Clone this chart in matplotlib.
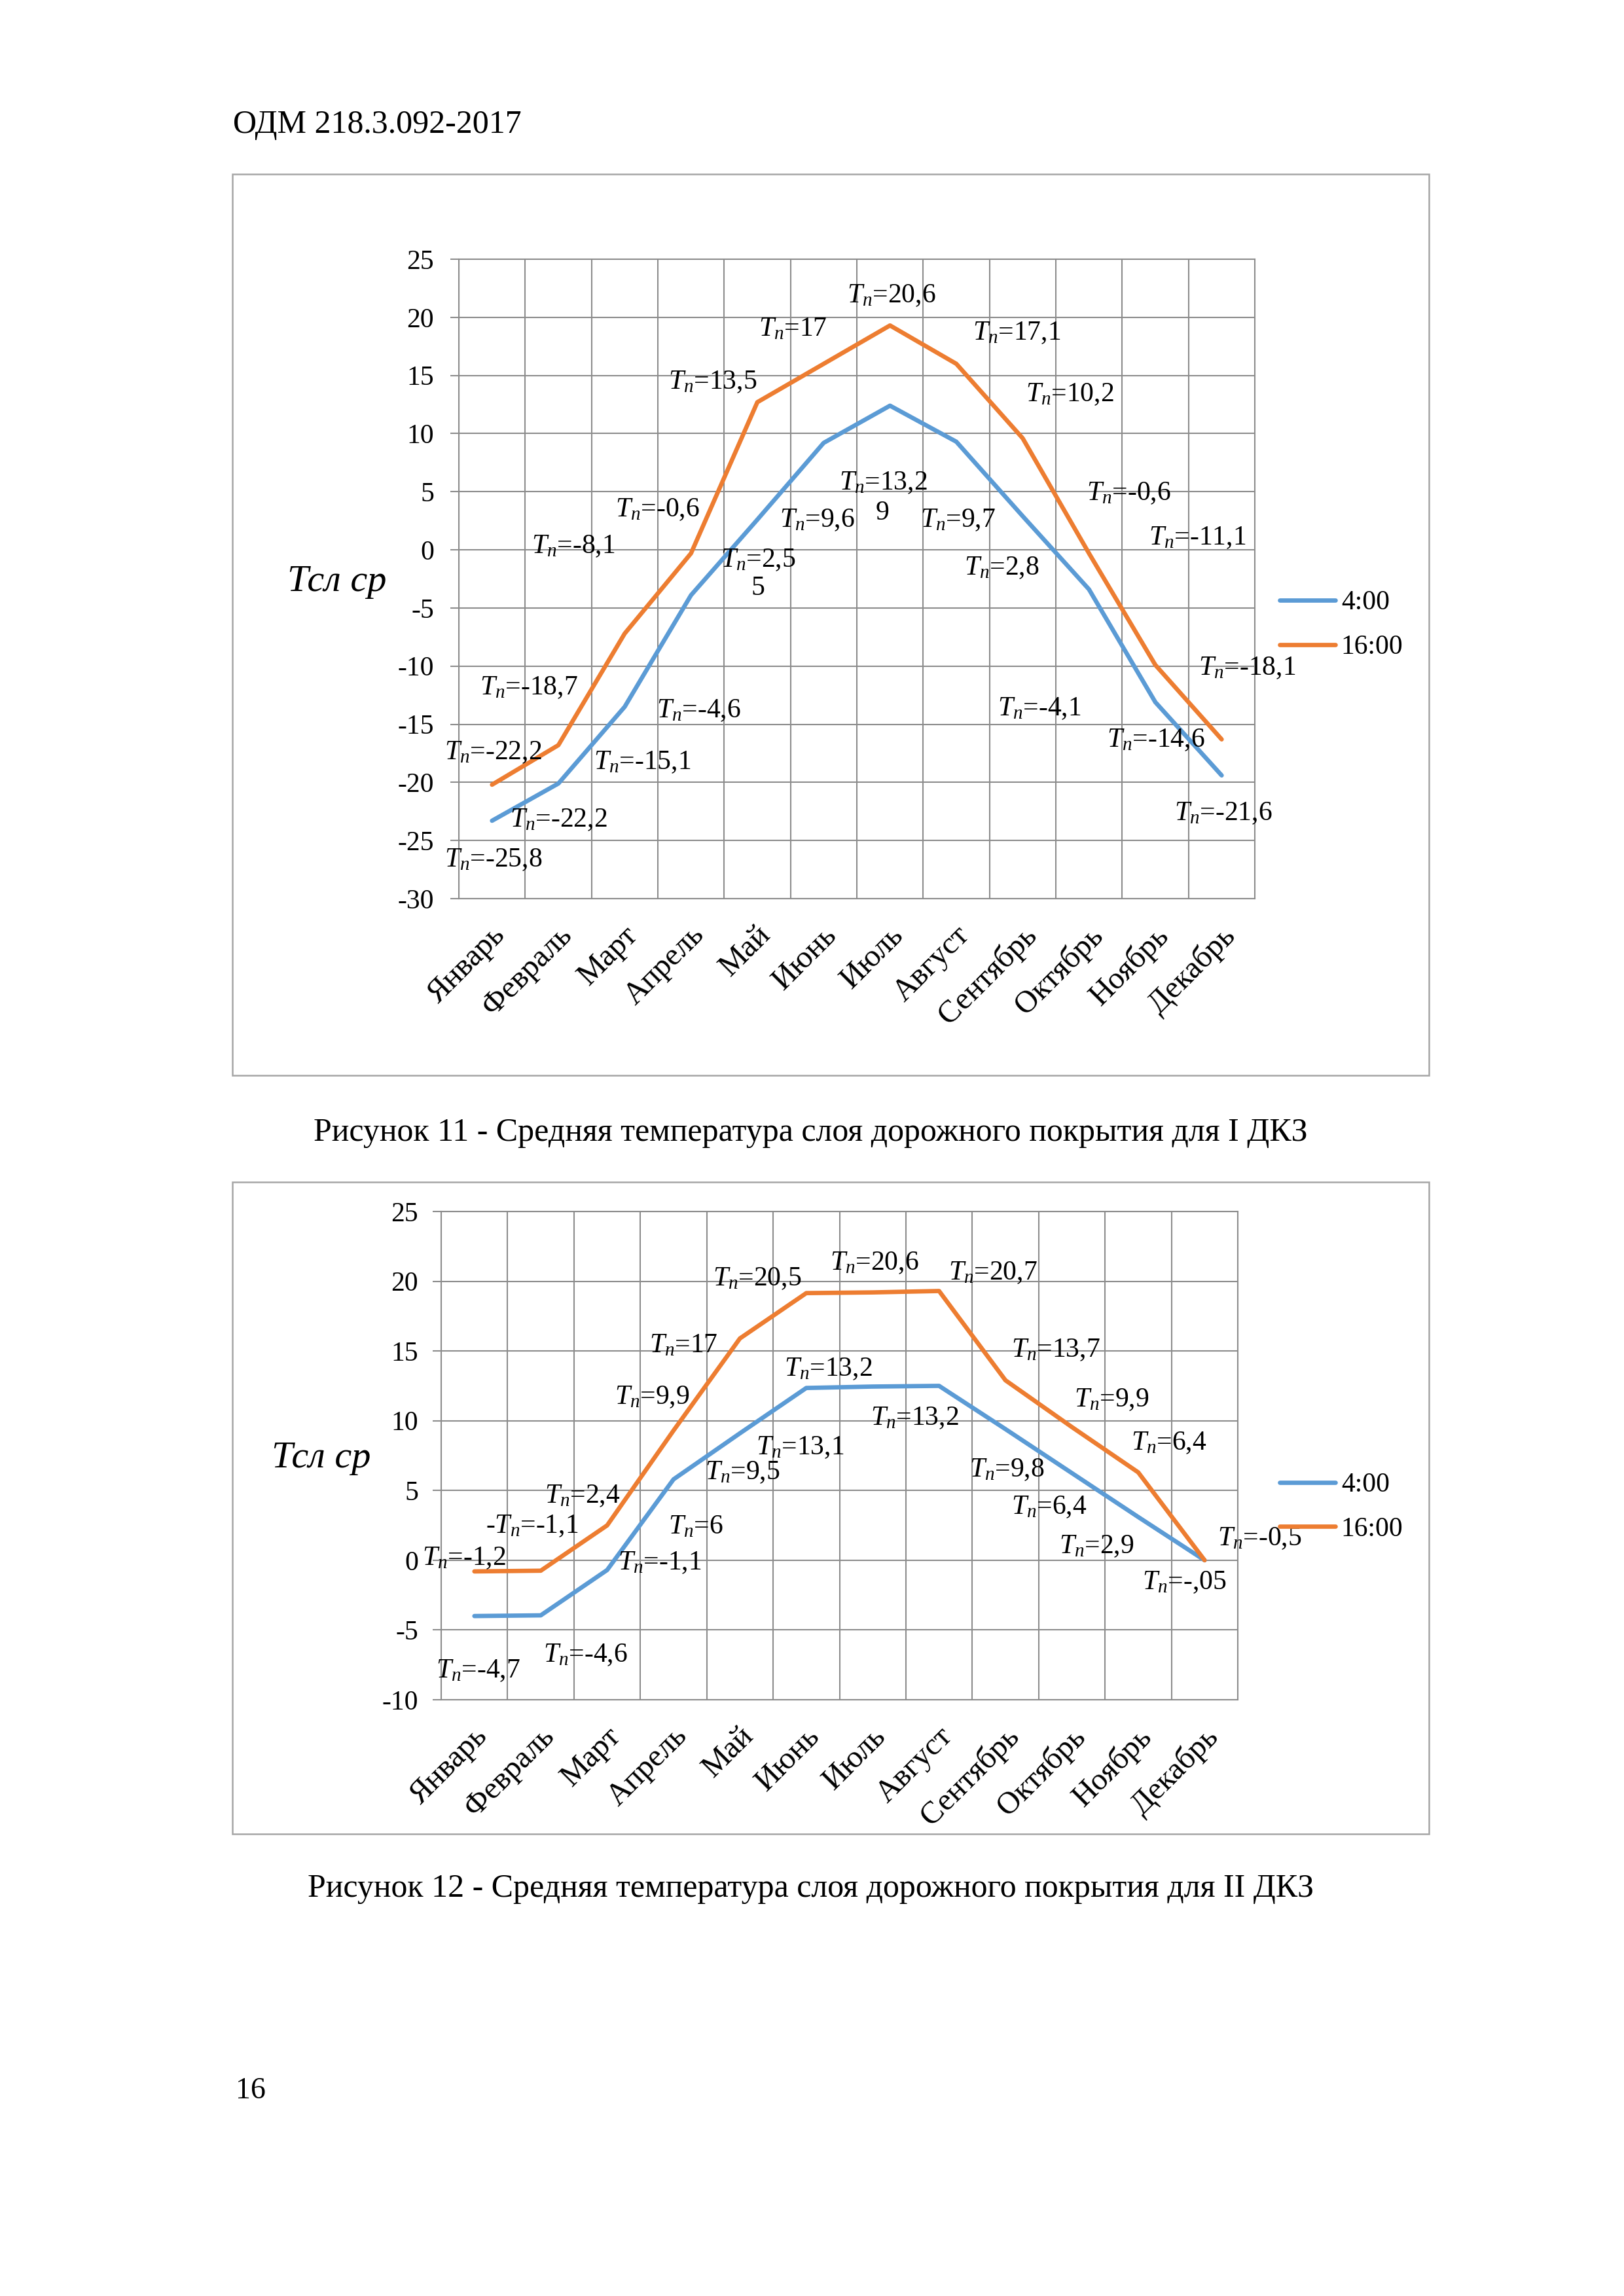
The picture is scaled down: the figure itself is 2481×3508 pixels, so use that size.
import matplotlib
matplotlib.use("Agg")
import matplotlib.pyplot as plt
import numpy as np
from matplotlib.patches import Rectangle
from matplotlib.transforms import ScaledTranslation

# ---------- data ----------
MONTHS = ["Январь", "Февраль", "Март", "Апрель", "Май", "Июнь",
          "Июль", "Август", "Сентябрь", "Октябрь", "Ноябрь", "Декабрь"]
SERIES = ["4:00", "16:00"]

# Figure 11 (I ДКЗ)
T4_FIG11 = [-23.3, -20.1, -13.5, -3.9, 2.6, 9.2, 12.4, 9.3, 2.9, -3.4, -13.1, -19.4]
T16_FIG11 = [-20.2, -16.8, -7.2, -0.3, 12.7, 16.0, 19.3, 16.0, 9.6, -0.3, -9.9, -16.3]
LABELS_FIG11 = ["$T_n$=20,6", "$T_n$=17", "$T_n$=17,1", "$T_n$=13,5", "$T_n$=10,2",
                "$T_n$=13,2", "9", "$T_n$=-0,6", "$T_n$=9,6", "$T_n$=9,7",
                "$T_n$=-0,6", "$T_n$=-8,1", "$T_n$=-11,1", "$T_n$=2,5", "5",
                "$T_n$=2,8", "$T_n$=-18,7", "$T_n$=-18,1", "$T_n$=-4,6", "$T_n$=-4,1",
                "$T_n$=-22,2", "$T_n$=-15,1", "$T_n$=-14,6", "$T_n$=-22,2",
                "$T_n$=-21,6", "$T_n$=-25,8"]

# Figure 12 (II ДКЗ)
T4_FIG12 = [-4.0, -3.95, -0.7, 5.8, 9.1, 12.35, 12.45, 12.5, 9.4, 6.25, 3.1, 0.0]
T16_FIG12 = [-0.8, -0.75, 2.5, 9.3, 15.9, 19.15, 19.2, 19.3, 12.9, 9.55, 6.3, 0.0]
LABELS_FIG12 = ["$T_n$=20,5", "$T_n$=20,6", "$T_n$=20,7", "$T_n$=17", "$T_n$=13,2",
                "$T_n$=13,7", "$T_n$=9,9", "$T_n$=13,2", "$T_n$=9,9", "$T_n$=13,1",
                "$T_n$=6,4", "$T_n$=9,5", "$T_n$=9,8", "$T_n$=2,4", "-$T_n$=-1,1",
                "$T_n$=6,4", "$T_n$=6", "$T_n$=2,9", "$T_n$=-0,5", "$T_n$=-1,2",
                "$T_n$=-1,1", "$T_n$=-,05", "$T_n$=-4,6", "$T_n$=-4,7"]

# ---------- layout (label anchors: left edge, text middle; data coords) ----------
LABEL_POS_FIG11 = [(5.35, 22.1), (4.02, 19.2), (7.25, 18.9), (2.66, 14.7), (8.05, 13.6),
                   (5.23, 6.0), (5.78, 3.4), (1.86, 3.7), (4.34, 2.8), (6.46, 2.8),
                   (8.96, 5.1), (0.60, 0.55), (9.90, 1.3), (3.45, -0.6), (3.91, -3.05),
                   (7.12, -1.3), (-0.18, -11.6), (10.65, -9.9), (2.48, -13.6), (7.62, -13.4),
                   (-0.72, -17.2), (1.53, -18.0), (9.27, -16.1), (0.27, -23.0),
                   (10.29, -22.4), (-0.72, -26.4)]
LABEL_POS_FIG12 = [(3.59, 20.4), (5.36, 21.5), (7.14, 20.8), (2.64, 15.6), (4.67, 13.9),
                   (8.09, 15.3), (2.11, 11.9), (5.97, 10.4), (9.03, 11.7), (4.24, 8.3),
                   (9.89, 8.6), (3.47, 6.5), (7.46, 6.7), (1.06, 4.8), (0.17, 2.65),
                   (8.09, 4.0), (2.92, 2.6), (8.81, 1.2), (11.19, 1.75), (-0.79, 0.36),
                   (2.16, 0.04), (10.06, -1.36), (1.04, -6.6), (-0.58, -7.7)]

W, H, DPI = 2481, 3508, 300
BLUE, ORANGE = "#5B9BD5", "#ED7D31"
GRID = "#8c8c8c"
BOX = "#a6a6a6"

plt.rcParams["font.family"] = ["Liberation Serif", "DejaVu Serif"]
plt.rcParams["mathtext.fontset"] = "custom"
plt.rcParams["mathtext.rm"] = "Liberation Serif"
plt.rcParams["mathtext.it"] = "Liberation Serif:italic"
plt.rcParams["axes.unicode_minus"] = False

fig = plt.figure(figsize=(W / DPI, H / DPI), dpi=DPI)


def fx(px):
    return px / W


def fy(py):
    return 1 - py / H


def draw_chart(plot_px, box_px, t4, t16, ymin, labels, label_pos, ylab_px, leg_px, ypad):
    x0, y0, x1, y1 = box_px
    fig.add_artist(Rectangle((fx(x0), fy(y1)), fx(x1 - x0), (y1 - y0) / H,
                             transform=fig.transFigure, fill=False, ec=BOX, lw=0.6))
    l, t, r, b = plot_px
    ax = fig.add_axes([fx(l), fy(b), fx(r - l), (b - t) / H])
    x = np.arange(len(MONTHS))
    for vals, col, name in zip([t4, t16], [BLUE, ORANGE], SERIES):
        ax.plot(x, vals, color=col, lw=1.6, label=name, zorder=3,
                solid_joinstyle="round", solid_capstyle="round")
    ax.set_xlim(-0.5, 11.5)
    ax.set_ylim(ymin, 25)
    ax.set_yticks(np.arange(ymin, 26, 5))
    ax.set_xticks(x)
    ax.set_xticklabels(MONTHS, rotation=45, ha="right", va="top",
                       rotation_mode="anchor", fontsize=11.5)
    ax.set_xticks(np.arange(-0.5, 12, 1), minor=True)
    ax.grid(True, axis="y", which="major", color=GRID, lw=0.5)
    ax.grid(True, axis="x", which="minor", color=GRID, lw=0.5)
    ax.set_axisbelow(True)
    ax.tick_params(axis="x", which="both", length=0, pad=8)
    ax.tick_params(axis="y", length=3.1, width=0.5, color=GRID, pad=ypad,
                   labelsize=10, direction="out")
    for s in ax.spines.values():
        s.set_color(GRID)
        s.set_linewidth(0.5)
    shift = ScaledTranslation(-2 / DPI, 0, fig.dpi_scale_trans)
    for lbl in ax.get_xticklabels():
        lbl.set_transform(lbl.get_transform() + shift)

    for txt, (lx, ly) in zip(labels, label_pos):
        ax.text(lx, ly, txt, fontsize=10, ha="left", va="center_baseline",
                clip_on=False, zorder=4)

    fig.text(fx(ylab_px[0]), fy(ylab_px[1]), "Тсл ср", fontsize=14,
             style="italic", ha="center", va="center")
    ax.legend(loc="center left", bbox_to_anchor=(fx(leg_px[0]), fy(leg_px[1])),
              bbox_transform=fig.transFigure, frameon=False, borderpad=0,
              borderaxespad=0, handlelength=2.05, handletextpad=0.2,
              labelspacing=0.7, fontsize=10)
    return ax


draw_chart((701, 396, 1917, 1373), (355, 266, 2183, 1643), T4_FIG11, T16_FIG11, -30,
           LABELS_FIG11, LABEL_POS_FIG11, (515, 889), (1955, 955), 6)
draw_chart((674, 1851, 1891, 2597), (355, 1806, 2183, 2802), T4_FIG12, T16_FIG12, -10,
           LABELS_FIG12, LABEL_POS_FIG12, (491, 2228), (1955, 2303), 5.3)

# page text
fig.text(fx(356), fy(203), "ОДМ 218.3.092-2017", fontsize=12, va="baseline")
fig.text(fx(1238), fy(1731),
         "Рисунок 11 - Средняя температура слоя дорожного покрытия для I ДКЗ",
         fontsize=12, ha="center", va="center")
fig.text(fx(1239), fy(2886),
         "Рисунок 12 - Средняя температура слоя дорожного покрытия для II ДКЗ",
         fontsize=12, ha="center", va="center")
fig.text(fx(360), fy(3206), "16", fontsize=11, va="baseline")

fig.savefig("out.png", dpi=DPI, facecolor="white")
